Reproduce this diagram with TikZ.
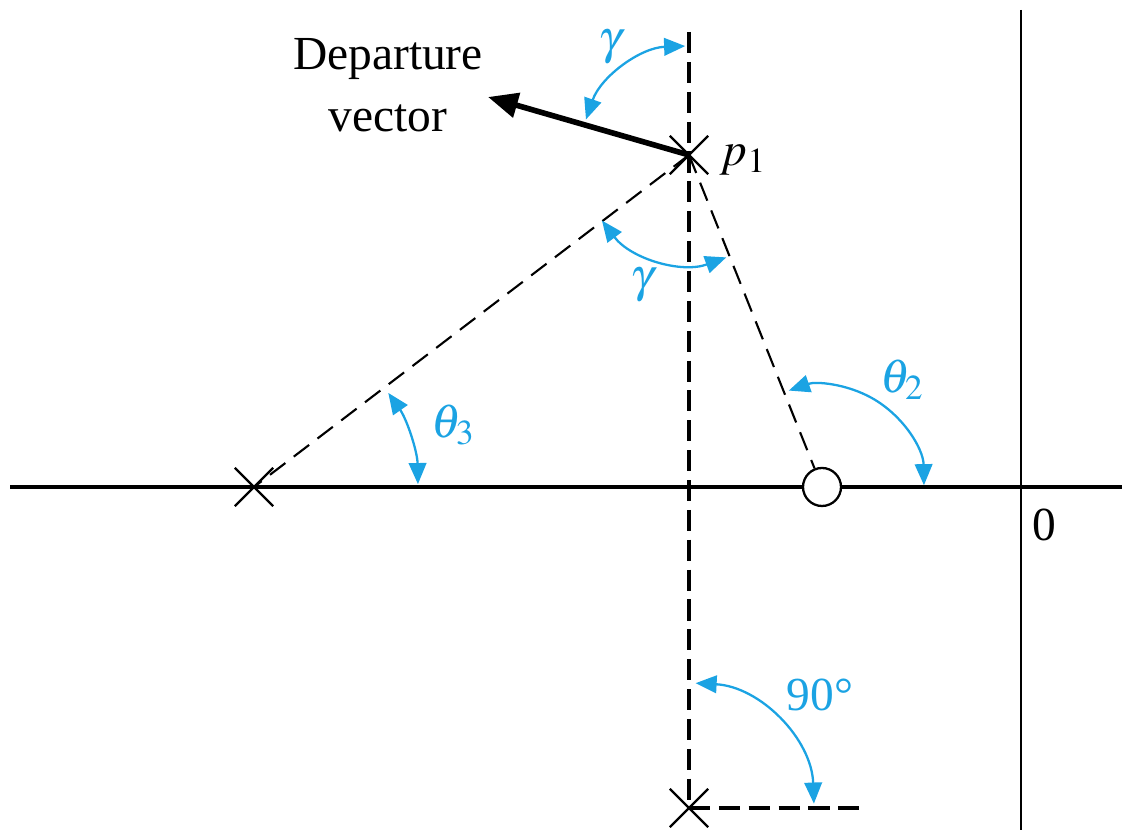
\documentclass[tikz,border=0pt]{standalone}
\usepackage{mathptmx}
\usepackage{fontspec}
\setmainfont{Liberation Serif}
\usetikzlibrary{arrows.meta, shapes.misc, positioning}
\definecolor{angblue}{RGB}{27,163,227}

\begin{document}
\begin{tikzpicture}[x=0.02cm, y=0.02cm,
    font=\fontsize{27}{35}\selectfont,
    axis/.style={line width=1.9pt},
    guide/.style={dash pattern=on 12pt off 5pt, line width=2pt},
    ray/.style={dash pattern=on 11pt off 6pt, line width=1.2pt},
    pole/.style={draw, cross out, line width=1.3pt, minimum size=0.72cm, inner sep=0pt},
    zeromark/.style={draw, circle, fill=white, line width=1.3pt, minimum size=0.76cm, inner sep=0pt},
    angarc/.style={angblue, line width=1.3pt, {Triangle[length=12pt,width=10pt]}-{Triangle[length=12pt,width=10pt]}},
    anglabel/.style={text=angblue}]
    \useasboundingbox (0,0) rectangle (1122,830);

    % Axes
    \draw[axis] (10,343) -- (1122,343);
    \draw[line width=1.5pt] (1021,820) -- (1021,0);
    \node (orig) at (1044,305) {0};

    % Poles and zero
    \node[pole] (p1) at (689,675) {};
    \node[pole] (p3) at (254,343) {};
    \node[pole] (p1c) at (689,22) {};
    \coordinate (top) at (689,798);
    \coordinate (hend) at (867,22);
    \node[right=0.12cm of p1.east, anchor=west, yshift=-3pt] (p1lab) {$p_1$};

    % Guide lines
    \draw[guide] (top) -- (p1c.center);
    \draw[guide] (p1c.center) -- (hend);
    \draw[ray] (p1.center) -- (p3.center);
    \node[zeromark] (z2) at (822,343) {};
    \draw[ray] (p1.center) -- (z2);

    % Departure vector
    \coordinate (dep) at (488,733);
    \draw[line width=3.2pt, -{Triangle[length=17pt,width=14pt]}] (p1.center) -- (dep);
    \node[align=center] (deplab) at (388,745) {Departure\\vector};

    % Angles
    \draw[angarc] ([shift={(92:2.18cm)}]p1.center) arc (92:161:2.18cm);
    \node[anglabel] (g1) at (610,783) {$\gamma$};
    \draw[angarc] ([shift={(217:2.18cm)}]p1.center) arc (217:290:2.18cm);
    \node[anglabel] (g2) at (642,545) {$\gamma$};
    \draw[angarc] ([shift={(1:2.04cm)}]z2.center) arc (1:109:2.04cm);
    \node[anglabel] (t2) at (902,450) {$\theta_2$};
    \draw[angarc] ([shift={(1:3.28cm)}]p3.center) arc (1:35:3.28cm);
    \node[anglabel] (t3) at (453,405) {$\theta_3$};
    \draw[angarc] ([shift={(2:2.5cm)}]p1c.center) arc (2:87:2.5cm);
    \node[anglabel] (r90) at (820,135) {90°};
\end{tikzpicture}
\end{document}
